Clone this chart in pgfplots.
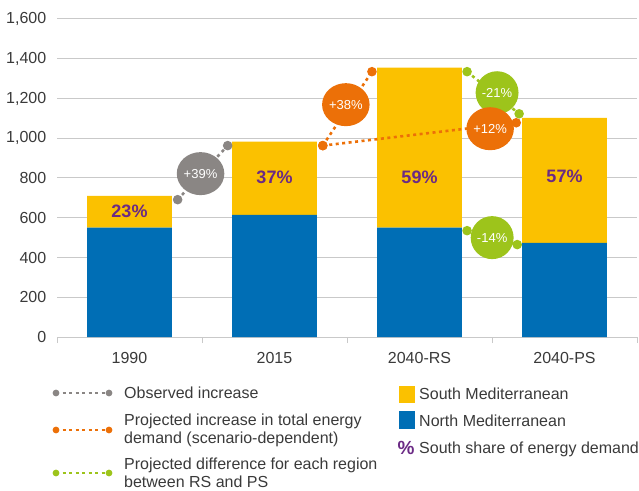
\documentclass[border=0pt]{standalone}
\usepackage{fontspec}
\setmainfont{Liberation Sans}
\usepackage{pgfplots}
\pgfplotsset{compat=1.18}
\usetikzlibrary{shapes.geometric}
\definecolor{cblue}{HTML}{006EB5}
\definecolor{cyellow}{HTML}{FBC100}
\definecolor{cpurple}{HTML}{6B2A85}
\definecolor{corange}{HTML}{EC7008}
\definecolor{cgreen}{HTML}{9DC41B}
\definecolor{cgrey}{HTML}{8A8684}
\definecolor{cgrid}{HTML}{C9C9C9}
\definecolor{ctext}{HTML}{3A3A3A}

\begin{document}
\begin{tikzpicture}[x=1pt,y=1pt]
\useasboundingbox (0,0) rectangle (639,490);
\begin{axis}[
  at={(57pt,153pt)}, anchor=south west,
  scale only axis, width=580pt, height=318pt,
  xmin=-0.5, xmax=3.5, ymin=0, ymax=1600,
  ybar stacked, bar width=0.586,
  xtick={0,1,2,3}, xticklabels={1990,2015,2040-RS,2040-PS},
  minor xtick={-0.5,0.5,1.5,2.5,3.5},
  major x tick style={draw=none},
  minor tick length=6pt,
  tick align=outside,
  ytick={0,200,...,1600},
  ymajorgrids, grid style={cgrid, line width=1pt},
  axis x line*=bottom, axis y line*=left,
  x axis line style={cgrid, line width=1pt, -},
  y axis line style={draw=none},
  ytick style={draw=none},
  minor x tick style={cgrid, line width=1pt},
  tick label style={font=\fontsize{16}{19}\selectfont, text=ctext},
  /pgf/number format/assume math mode=true,
  /pgf/number format/1000 sep={,},
  xticklabel style={yshift=-8pt},
  yticklabel style={xshift=-3pt},
  clip=false,
]
\addplot[fill=cblue, draw=none] coordinates {(0,550) (1,615) (2,550) (3,474)};
\addplot[fill=cyellow, draw=none] coordinates {(0,160) (1,368) (2,805) (3,629)};
\end{axis}
\begin{axis}[
  at={(57pt,153pt)}, anchor=south west,
  scale only axis, width=580pt, height=318pt,
  xmin=-0.5, xmax=3.5, ymin=0, ymax=1600,
  hide axis, clip=false,
  every axis plot/.append style={line width=2.6pt, dash pattern=on 3pt off 3.5pt,
     mark=*, mark size=3.4pt},
]
\addplot[cgrey, mark options={solid, fill=cgrey, draw=none}] coordinates {(0.332,691) (0.677,963)};
\addplot[corange, mark options={solid, fill=corange, draw=none}] coordinates {(1.333,963) (1.672,1335)};
\addplot[corange, mark options={solid, fill=corange, draw=none}] coordinates {(1.333,963) (2.667,1078)};
\addplot[cgreen, mark options={solid, fill=cgreen, draw=none}] coordinates {(2.328,1335) (2.687,1123)};
\addplot[cgreen, mark options={solid, fill=cgreen, draw=none}] coordinates {(2.328,535) (2.674,465)};
\tikzset{bub/.style={ellipse, minimum width=39pt, minimum height=43pt, inner sep=0pt,
   text=white, font=\fontsize{13}{15}\selectfont},
   pct/.style={text=cpurple, inner sep=0pt, font=\bfseries\fontsize{18}{20}\selectfont}}
\node[pct] at (axis cs:0,630) {23\%};
\node[pct] at (axis cs:1,801) {37\%};
\node[pct] at (axis cs:2,801) {59\%};
\node[pct] at (axis cs:3,807) {57\%};
\node[bub, fill=cgrey] at (axis cs:0.49,822) {+39\%};
\node[bub, fill=corange] at (axis cs:1.492,1169) {+38\%};
\node[bub, fill=cgreen] at (axis cs:2.535,1229) {-21\%};
\node[bub, fill=cgreen] at (axis cs:2.501,500) {-14\%};
\node[bub, fill=corange] at (axis cs:2.487,1048) {+12\%};
\end{axis}
% legend
\begin{scope}[line width=2.6pt, dash pattern=on 3pt off 3.5pt]
\draw[cgrey] (56,97) -- (109,97);
\draw[corange] (56,60) -- (109,60);
\draw[cgreen] (56,17) -- (109,17);
\end{scope}
\foreach \yy/\cc in {97/cgrey,60/corange,17/cgreen}{
  \fill[\cc] (56,\yy) circle (3.4); \fill[\cc] (109,\yy) circle (3.4);
}
\tikzset{lt/.style={anchor=west, inner sep=0pt, align=left, text=ctext, font=\fontsize{16}{18}\selectfont}}
\node[lt] at (124,97) {Observed increase};
\node[lt] at (124,60) {Projected increase in total energy\\demand (scenario-dependent)};
\node[lt] at (124,17) {Projected difference for each region\\between RS and PS};
\fill[cyellow] (399,87) rectangle (415,104);
\fill[cblue] (399,61) rectangle (415,79);
\node[lt] at (419,96) {South Mediterranean};
\node[lt] at (419,69) {North Mediterranean};
\node[anchor=center, inner sep=0pt, text=cpurple, font=\bfseries\fontsize{19}{20}\selectfont] at (406,42) {\%};
\node[lt] at (419,41) {South share of energy demand};
\end{tikzpicture}
\end{document}
